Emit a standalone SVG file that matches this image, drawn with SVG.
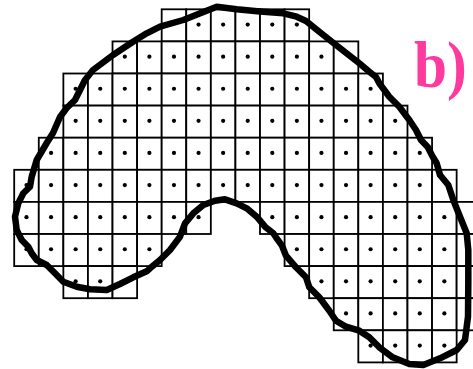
<svg xmlns="http://www.w3.org/2000/svg" xmlns:xlink="http://www.w3.org/1999/xlink" width="473" height="369" viewBox="0 0 473 369">
<style>
.g{fill:#fff;stroke:#000;stroke-width:1.8}
.d{fill:#000}
.o{fill:none;stroke:#000;stroke-width:6.5;stroke-linejoin:round;stroke-linecap:round}
.lbl{font-family:"Liberation Serif","Times New Roman",serif;font-weight:bold;font-size:66px;fill:#FF3A9E}
</style>
<defs>
<rect id="c" class="g" width="24.58" height="32.1"/>
<circle id="p" class="d" r="2.1"/>
</defs>
<rect width="473" height="369" fill="#fff"/>
<g id="grid">
<!-- row 0 -->
<use href="#c" x="161.68" y="9.3"/><use href="#c" x="186.26" y="9.3"/><use href="#c" x="210.84" y="9.3"/><use href="#c" x="235.42" y="9.3"/><use href="#c" x="260" y="9.3"/><use href="#c" x="284.58" y="9.3"/>
<!-- row 1 -->
<use href="#c" x="112.52" y="41.4"/><use href="#c" x="137.1" y="41.4"/><use href="#c" x="161.68" y="41.4"/><use href="#c" x="186.26" y="41.4"/><use href="#c" x="210.84" y="41.4"/><use href="#c" x="235.42" y="41.4"/><use href="#c" x="260" y="41.4"/><use href="#c" x="284.58" y="41.4"/><use href="#c" x="309.16" y="41.4"/><use href="#c" x="333.74" y="41.4"/>
<!-- row 2 -->
<use href="#c" x="63.36" y="73.5"/><use href="#c" x="87.94" y="73.5"/><use href="#c" x="112.52" y="73.5"/><use href="#c" x="137.1" y="73.5"/><use href="#c" x="161.68" y="73.5"/><use href="#c" x="186.26" y="73.5"/><use href="#c" x="210.84" y="73.5"/><use href="#c" x="235.42" y="73.5"/><use href="#c" x="260" y="73.5"/><use href="#c" x="284.58" y="73.5"/><use href="#c" x="309.16" y="73.5"/><use href="#c" x="333.74" y="73.5"/><use href="#c" x="358.32" y="73.5"/>
<!-- row 3 -->
<use href="#c" x="63.36" y="105.6"/><use href="#c" x="87.94" y="105.6"/><use href="#c" x="112.52" y="105.6"/><use href="#c" x="137.1" y="105.6"/><use href="#c" x="161.68" y="105.6"/><use href="#c" x="186.26" y="105.6"/><use href="#c" x="210.84" y="105.6"/><use href="#c" x="235.42" y="105.6"/><use href="#c" x="260" y="105.6"/><use href="#c" x="284.58" y="105.6"/><use href="#c" x="309.16" y="105.6"/><use href="#c" x="333.74" y="105.6"/><use href="#c" x="358.32" y="105.6"/><use href="#c" x="382.9" y="105.6"/>
<!-- row 4 -->
<use href="#c" x="38.78" y="137.7"/><use href="#c" x="63.36" y="137.7"/><use href="#c" x="87.94" y="137.7"/><use href="#c" x="112.52" y="137.7"/><use href="#c" x="137.1" y="137.7"/><use href="#c" x="161.68" y="137.7"/><use href="#c" x="186.26" y="137.7"/><use href="#c" x="210.84" y="137.7"/><use href="#c" x="235.42" y="137.7"/><use href="#c" x="260" y="137.7"/><use href="#c" x="284.58" y="137.7"/><use href="#c" x="309.16" y="137.7"/><use href="#c" x="333.74" y="137.7"/><use href="#c" x="358.32" y="137.7"/><use href="#c" x="382.9" y="137.7"/><use href="#c" x="407.48" y="137.7"/>
<!-- row 5 -->
<use href="#c" x="14.2" y="169.8"/><use href="#c" x="38.78" y="169.8"/><use href="#c" x="63.36" y="169.8"/><use href="#c" x="87.94" y="169.8"/><use href="#c" x="112.52" y="169.8"/><use href="#c" x="137.1" y="169.8"/><use href="#c" x="161.68" y="169.8"/><use href="#c" x="186.26" y="169.8"/><use href="#c" x="210.84" y="169.8"/><use href="#c" x="235.42" y="169.8"/><use href="#c" x="260" y="169.8"/><use href="#c" x="284.58" y="169.8"/><use href="#c" x="309.16" y="169.8"/><use href="#c" x="333.74" y="169.8"/><use href="#c" x="358.32" y="169.8"/><use href="#c" x="382.9" y="169.8"/><use href="#c" x="407.48" y="169.8"/><use href="#c" x="432.06" y="169.8"/>
<!-- row 6 -->
<use href="#c" x="14.2" y="201.9"/><use href="#c" x="38.78" y="201.9"/><use href="#c" x="63.36" y="201.9"/><use href="#c" x="87.94" y="201.9"/><use href="#c" x="112.52" y="201.9"/><use href="#c" x="137.1" y="201.9"/><use href="#c" x="161.68" y="201.9"/><use href="#c" x="186.26" y="201.9"/>
<use href="#c" x="260" y="201.9"/><use href="#c" x="284.58" y="201.9"/><use href="#c" x="309.16" y="201.9"/><use href="#c" x="333.74" y="201.9"/><use href="#c" x="358.32" y="201.9"/><use href="#c" x="382.9" y="201.9"/><use href="#c" x="407.48" y="201.9"/><use href="#c" x="432.06" y="201.9"/><use href="#c" x="456.64" y="201.9"/>
<!-- row 7 -->
<use href="#c" x="14.2" y="234"/><use href="#c" x="38.78" y="234"/><use href="#c" x="63.36" y="234"/><use href="#c" x="87.94" y="234"/><use href="#c" x="112.52" y="234"/><use href="#c" x="137.1" y="234"/>
<use href="#c" x="284.58" y="234"/><use href="#c" x="309.16" y="234"/><use href="#c" x="333.74" y="234"/><use href="#c" x="358.32" y="234"/><use href="#c" x="382.9" y="234"/><use href="#c" x="407.48" y="234"/><use href="#c" x="432.06" y="234"/><use href="#c" x="456.64" y="234"/>
<!-- row 8 -->
<use href="#c" x="63.36" y="266.1"/><use href="#c" x="87.94" y="266.1"/><use href="#c" x="112.52" y="266.1"/>
<use href="#c" x="309.16" y="266.1"/><use href="#c" x="333.74" y="266.1"/><use href="#c" x="358.32" y="266.1"/><use href="#c" x="382.9" y="266.1"/><use href="#c" x="407.48" y="266.1"/><use href="#c" x="432.06" y="266.1"/><use href="#c" x="456.64" y="266.1"/>
<!-- row 9 -->
<use href="#c" x="333.74" y="298.2"/><use href="#c" x="358.32" y="298.2"/><use href="#c" x="382.9" y="298.2"/><use href="#c" x="407.48" y="298.2"/><use href="#c" x="432.06" y="298.2"/><use href="#c" x="456.64" y="298.2"/>
<!-- row 10 -->
<use href="#c" x="358.32" y="330.3"/><use href="#c" x="382.9" y="330.3"/><use href="#c" x="407.48" y="330.3"/><use href="#c" x="432.06" y="330.3"/>
</g>
<g id="dots">
<!-- row 0 -->
<use href="#p" x="198.55" y="24.55"/><use href="#p" x="223.13" y="24.55"/><use href="#p" x="247.71" y="24.55"/><use href="#p" x="272.29" y="24.55"/><use href="#p" x="296.87" y="24.55"/>
<!-- row 1 -->
<use href="#p" x="124.81" y="56.65"/><use href="#p" x="149.39" y="56.65"/><use href="#p" x="173.97" y="56.65"/><use href="#p" x="198.55" y="56.65"/><use href="#p" x="223.13" y="56.65"/><use href="#p" x="247.71" y="56.65"/><use href="#p" x="272.29" y="56.65"/><use href="#p" x="296.87" y="56.65"/><use href="#p" x="321.45" y="56.65"/>
<!-- row 2 -->
<use href="#p" x="75.65" y="88.75"/><use href="#p" x="100.23" y="88.75"/><use href="#p" x="124.81" y="88.75"/><use href="#p" x="149.39" y="88.75"/><use href="#p" x="173.97" y="88.75"/><use href="#p" x="198.55" y="88.75"/><use href="#p" x="223.13" y="88.75"/><use href="#p" x="247.71" y="88.75"/><use href="#p" x="272.29" y="88.75"/><use href="#p" x="296.87" y="88.75"/><use href="#p" x="321.45" y="88.75"/><use href="#p" x="346.03" y="88.75"/><use href="#p" x="370.61" y="88.75"/>
<!-- row 3 -->
<use href="#p" x="75.65" y="120.85"/><use href="#p" x="100.23" y="120.85"/><use href="#p" x="124.81" y="120.85"/><use href="#p" x="149.39" y="120.85"/><use href="#p" x="173.97" y="120.85"/><use href="#p" x="198.55" y="120.85"/><use href="#p" x="223.13" y="120.85"/><use href="#p" x="247.71" y="120.85"/><use href="#p" x="272.29" y="120.85"/><use href="#p" x="296.87" y="120.85"/><use href="#p" x="321.45" y="120.85"/><use href="#p" x="346.03" y="120.85"/><use href="#p" x="370.61" y="120.85"/><use href="#p" x="395.19" y="120.85"/>
<!-- row 4 -->
<use href="#p" x="51.07" y="152.95"/><use href="#p" x="75.65" y="152.95"/><use href="#p" x="100.23" y="152.95"/><use href="#p" x="124.81" y="152.95"/><use href="#p" x="149.39" y="152.95"/><use href="#p" x="173.97" y="152.95"/><use href="#p" x="198.55" y="152.95"/><use href="#p" x="223.13" y="152.95"/><use href="#p" x="247.71" y="152.95"/><use href="#p" x="272.29" y="152.95"/><use href="#p" x="296.87" y="152.95"/><use href="#p" x="321.45" y="152.95"/><use href="#p" x="346.03" y="152.95"/><use href="#p" x="370.61" y="152.95"/><use href="#p" x="395.19" y="152.95"/><use href="#p" x="419.77" y="152.95"/>
<!-- row 5 -->
<use href="#p" x="26.49" y="185.05"/><use href="#p" x="51.07" y="185.05"/><use href="#p" x="75.65" y="185.05"/><use href="#p" x="100.23" y="185.05"/><use href="#p" x="124.81" y="185.05"/><use href="#p" x="149.39" y="185.05"/><use href="#p" x="173.97" y="185.05"/><use href="#p" x="198.55" y="185.05"/><use href="#p" x="223.13" y="185.05"/><use href="#p" x="247.71" y="185.05"/><use href="#p" x="272.29" y="185.05"/><use href="#p" x="296.87" y="185.05"/><use href="#p" x="321.45" y="185.05"/><use href="#p" x="346.03" y="185.05"/><use href="#p" x="370.61" y="185.05"/><use href="#p" x="395.19" y="185.05"/><use href="#p" x="419.77" y="185.05"/>
<!-- row 6 -->
<use href="#p" x="26.49" y="217.15"/><use href="#p" x="51.07" y="217.15"/><use href="#p" x="75.65" y="217.15"/><use href="#p" x="100.23" y="217.15"/><use href="#p" x="124.81" y="217.15"/><use href="#p" x="149.39" y="217.15"/><use href="#p" x="173.97" y="217.15"/><use href="#p" x="198.55" y="217.15"/>
<use href="#p" x="272.29" y="217.15"/><use href="#p" x="296.87" y="217.15"/><use href="#p" x="321.45" y="217.15"/><use href="#p" x="346.03" y="217.15"/><use href="#p" x="370.61" y="217.15"/><use href="#p" x="395.19" y="217.15"/><use href="#p" x="419.77" y="217.15"/><use href="#p" x="444.35" y="217.15"/>
<!-- row 7 -->
<use href="#p" x="26.49" y="249.25"/><use href="#p" x="51.07" y="249.25"/><use href="#p" x="75.65" y="249.25"/><use href="#p" x="100.23" y="249.25"/><use href="#p" x="124.81" y="249.25"/><use href="#p" x="149.39" y="249.25"/>
<use href="#p" x="296.87" y="249.25"/><use href="#p" x="321.45" y="249.25"/><use href="#p" x="346.03" y="249.25"/><use href="#p" x="370.61" y="249.25"/><use href="#p" x="395.19" y="249.25"/><use href="#p" x="419.77" y="249.25"/><use href="#p" x="444.35" y="249.25"/>
<!-- row 8 -->
<use href="#p" x="75.65" y="281.35"/><use href="#p" x="100.23" y="281.35"/>
<use href="#p" x="321.45" y="281.35"/><use href="#p" x="346.03" y="281.35"/><use href="#p" x="370.61" y="281.35"/><use href="#p" x="395.19" y="281.35"/><use href="#p" x="419.77" y="281.35"/><use href="#p" x="444.35" y="281.35"/>
<!-- row 9 -->
<use href="#p" x="346.03" y="313.45"/><use href="#p" x="370.61" y="313.45"/><use href="#p" x="395.19" y="313.45"/><use href="#p" x="419.77" y="313.45"/><use href="#p" x="444.35" y="313.45"/>
<!-- row 10 -->
<use href="#p" x="370.61" y="345.55"/><use href="#p" x="395.19" y="345.55"/><use href="#p" x="419.77" y="345.55"/><use href="#p" x="444.35" y="345.55"/>
</g>
<g id="outline">
<path class="o" d="M216.7,6.7 L236.7,9.3 260,11.5 283.3,13.3 296.7,16.7 306,21 319.3,31.7 336,45 359.3,63.3 369.3,71.7 376,77 379.3,83.3 389.3,96.7 399.3,106.7 409.3,120 416,130 421,140 427.7,147 432.7,156.7 436.7,163.3 440,175 448.3,185 453.3,200 460,216.7 466.7,233.3 468.3,250 468.3,283.3 468,316.7 465,340 456.7,350 440,358.3 423.3,365 409.3,364 392.7,357.3 379.3,347.3 369.3,337.3 359.3,330.7 346,326.7 336,320.7 329.3,310.7 319.3,297.3 309.3,287.3 306,277.3 296,267.3 286,255.7 282,245.7 276,237.3 273.3,233.3 265,226.7 256.7,216.7 246.7,208.3 236.7,203.3 225,199.3 215,200.7 203.3,205 193.3,213.3 185,223.3 180,236.7 170,250 160,260 150,268.3 146.7,271.3 133.3,277.3 120,284 106.7,290 90,289.3 76.7,286.7 63.3,281.7 55,273.3 46.7,265 36.7,260 31.7,253.3 28.3,246.7 21.7,240 16.7,230 15,216.7 18.3,203.3 23.3,193.3 30,186.7 31.7,176.7 36.7,160 46.7,143 53,133 60,117 66.7,108 75,100 85,80 93,70 113,55 133,41.7 146.7,33.3 160,26.7 183.3,20 Z"/>
</g>
<g id="label">
<text class="lbl" transform="translate(414,87.3) scale(0.9,1)">b)</text>
</g>
</svg>
